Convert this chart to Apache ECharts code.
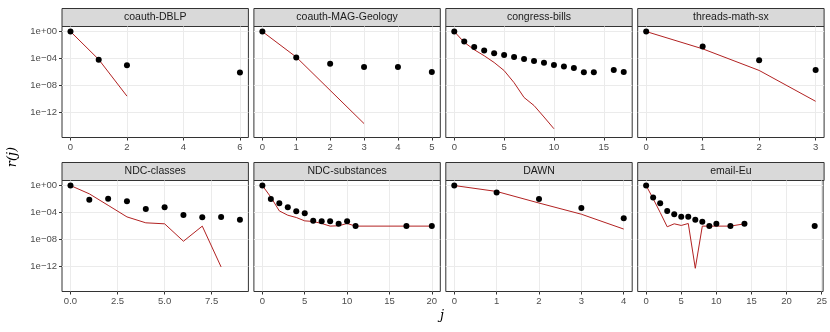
<!DOCTYPE html>
<html>
<head>
<meta charset="utf-8">
<script src="https://cdn.jsdelivr.net/npm/echarts@6/dist/echarts.min.js"></script>
<style>
  html, body { margin: 0; padding: 0; background: #fff; }
  #chart { width: 830px; height: 332px; }
</style>
</head>
<body>
<div id="chart"></div>
<script>
// all y values are log10 r(j)
// coauth-DBLP
const dblpObsX = [0, 1, 2, 6];
const dblpObsY = [0, -4.2, -5.0, -6.1];
const dblpLineX = [0, 1, 2];
const dblpLineY = [0, -4.15, -9.6];
// coauth-MAG-Geology
const magObsX = [0, 1, 2, 3, 4, 5];
const magObsY = [0, -3.85, -4.8, -5.28, -5.28, -6.03];
const magLineX = [0, 1, 2, 3];
const magLineY = [0, -3.8, -8.74, -13.68];
// congress-bills
const billsObsX = [0, 1, 2, 3, 4, 5, 6, 7, 8, 9, 10, 11, 12, 13, 14, 16, 17];
const billsObsY = [0, -1.48, -2.3, -2.81, -3.21, -3.5, -3.77, -4.07, -4.37, -4.64, -4.97, -5.19, -5.43, -6.05, -6.05, -5.73, -6.03];
const billsLineX = [0, 1, 2, 3, 4, 5, 6, 7, 8, 9, 10];
const billsLineY = [0, -1.6, -2.7, -3.6, -4.6, -5.8, -7.6, -9.8, -11.0, -12.7, -14.45];
// threads-math-sx
const threadsObsX = [0, 1, 2, 3];
const threadsObsY = [0, -2.22, -4.25, -5.73];
const threadsLineX = [0, 1, 2, 3];
const threadsLineY = [0, -2.57, -5.78, -10.37];
// NDC-classes
const ndccObsX = [0, 1, 2, 3, 4, 5, 6, 7, 8, 9];
const ndccObsY = [0, -2.11, -1.96, -2.35, -3.48, -3.24, -4.36, -4.7, -4.66, -5.1];
const ndccLineX = [0, 1, 2, 3, 4, 5, 6, 7, 8];
const ndccLineY = [0, -1.23, -2.94, -4.66, -5.54, -5.69, -8.28, -6.03, -12.1];
// NDC-substances
const ndcsObsX = [0, 1, 2, 3, 4, 5, 6, 7, 8, 9, 10, 11, 17, 20];
const ndcsObsY = [0, -2.01, -2.65, -3.24, -3.82, -4.12, -5.25, -5.29, -5.29, -5.69, -5.29, -6.03, -6.03, -6.03];
const ndcsLineX = [0, 1, 2, 3, 4, 5, 6, 7, 8, 9, 10, 11, 17, 20];
const ndcsLineY = [0, -1.72, -3.77, -4.41, -4.75, -5.25, -5.34, -5.64, -6.03, -5.98, -5.64, -6.03, -6.03, -6.03];
// DAWN
const dawnObsX = [0, 1, 2, 3, 4];
const dawnObsY = [0, -1.03, -2.01, -3.33, -4.85];
const dawnLineX = [0, 1, 2, 3, 4];
const dawnLineY = [0, -0.88, -2.6, -4.26, -6.47];
// email-Eu
const emailObsX = [0, 1, 2, 3, 4, 5, 6, 7, 8, 9, 10, 12, 14, 24];
const emailObsY = [0, -1.76, -2.62, -3.77, -4.28, -4.63, -4.63, -5.1, -5.39, -6.03, -5.69, -6.03, -5.69, -6.03];
const emailLineX = [0, 1, 2, 3, 4, 5, 6, 7, 8, 9, 10, 12, 14];
const emailLineY = [0, -1.95, -4.0, -6.13, -5.69, -5.93, -5.64, -12.3, -6.03, -6.03, -6.03, -6.03, -5.69];

// tick labels
const yTicks = [-12, -8, -4, 0];
const yTickLabels = ['1e\u221212', '1e\u221208', '1e\u221204', '1e+00'];

const panels = [
  { name: 'coauth-DBLP', ox: dblpObsX, oy: dblpObsY, lx: dblpLineX, ly: dblpLineY, xMax: 6, ticks: [0, 2, 4, 6] },
  { name: 'coauth-MAG-Geology', ox: magObsX, oy: magObsY, lx: magLineX, ly: magLineY, xMax: 5, ticks: [0, 1, 2, 3, 4, 5] },
  { name: 'congress-bills', ox: billsObsX, oy: billsObsY, lx: billsLineX, ly: billsLineY, xMax: 17, ticks: [0, 5, 10, 15] },
  { name: 'threads-math-sx', ox: threadsObsX, oy: threadsObsY, lx: threadsLineX, ly: threadsLineY, xMax: 3, ticks: [0, 1, 2, 3] },
  { name: 'NDC-classes', ox: ndccObsX, oy: ndccObsY, lx: ndccLineX, ly: ndccLineY, xMax: 9, ticks: [0, 2.5, 5, 7.5], dec: 1 },
  { name: 'NDC-substances', ox: ndcsObsX, oy: ndcsObsY, lx: ndcsLineX, ly: ndcsLineY, xMax: 20, ticks: [0, 5, 10, 15, 20] },
  { name: 'DAWN', ox: dawnObsX, oy: dawnObsY, lx: dawnLineX, ly: dawnLineY, xMax: 4, ticks: [0, 1, 2, 3, 4] },
  { name: 'email-Eu', ox: emailObsX, oy: emailObsY, lx: emailLineX, ly: emailLineY, xMax: 24, ticks: [0, 5, 10, 15, 20, 25] }
];

const font = '"Liberation Sans", Arial, sans-serif';
const panelW = 186.4, panelH = 111, gapX = 5.5, stripH = 18;
const rowTop = [26.5, 180.5];

let chart = echarts.init(document.getElementById('chart'));
let grid = [], xAxis = [], yAxis = [], series = [], graphic = [];

panels.forEach((p, i) => {
  const col = i % 4, row = Math.floor(i / 4);
  const left = 62 + col * (panelW + gapX);
  const top = rowTop[row];
  grid.push({
    left: left, top: top, width: panelW, height: panelH,
    show: true, backgroundColor: '#fff', borderColor: '#333', borderWidth: 1
  });
  xAxis.push({
    type: 'value', gridIndex: i, position: 'bottom',
    min: -0.05 * p.xMax, max: 1.05 * p.xMax,
    axisLine: { show: false, onZero: false },
    axisTick: { show: true, length: 3, customValues: p.ticks, lineStyle: { color: '#333' } },
    axisLabel: {
      customValues: p.ticks, margin: 5, color: '#4d4d4d', fontSize: 9.5, fontFamily: font,
      formatter: v => p.dec ? v.toFixed(p.dec) : String(v)
    },
    splitLine: { show: true, lineStyle: { color: '#ebebeb', width: 1 } }
  });
  yAxis.push({
    type: 'value', gridIndex: i, position: 'left', min: -15.75, max: 0.75,
    axisLine: { show: false, onZero: false },
    axisTick: { show: col === 0, length: 3, customValues: yTicks, lineStyle: { color: '#333' } },
    axisLabel: {
      show: col === 0, customValues: yTicks, margin: 5, color: '#4d4d4d', fontSize: 9.5, fontFamily: font,
      formatter: v => yTickLabels[yTicks.indexOf(v)]
    },
    splitLine: { show: true, lineStyle: { color: '#ebebeb', width: 1 } }
  });
  series.push({
    type: 'line', xAxisIndex: i, yAxisIndex: i, symbol: 'none', silent: true, z: 2,
    lineStyle: { color: '#B22222', width: 1 },
    data: p.lx.map((x, k) => [x, p.ly[k]])
  });
  series.push({
    type: 'scatter', xAxisIndex: i, yAxisIndex: i, symbolSize: 6, silent: true, z: 3,
    itemStyle: { color: '#000', opacity: 1 },
    data: p.ox.map((x, k) => [x, p.oy[k]])
  });
  // facet strip
  graphic.push({
    type: 'rect',
    shape: { x: left, y: top - stripH, width: panelW, height: stripH },
    style: { fill: '#d9d9d9', stroke: '#333', lineWidth: 1 }
  });
  graphic.push({
    type: 'text', x: left + panelW / 2, y: top - stripH / 2,
    style: { text: p.name, fill: '#1a1a1a', font: '10.5px ' + font, textAlign: 'center', textVerticalAlign: 'middle' }
  });
});

// axis titles
graphic.push({
  type: 'text', x: 13, y: 157, rotation: Math.PI / 2,
  style: { text: 'r(j)', fill: '#000', font: 'italic 13px "DejaVu Serif", serif', textAlign: 'center', textVerticalAlign: 'middle' }
});
graphic.push({
  type: 'text', x: 442, y: 316,
  style: { text: 'j', fill: '#000', font: 'italic 13px "DejaVu Serif", serif', textAlign: 'center', textVerticalAlign: 'middle' }
});

chart.setOption({
  animation: false,
  backgroundColor: '#fff',
  grid: grid,
  xAxis: xAxis,
  yAxis: yAxis,
  series: series,
  graphic: graphic
});
</script>
</body>
</html>
